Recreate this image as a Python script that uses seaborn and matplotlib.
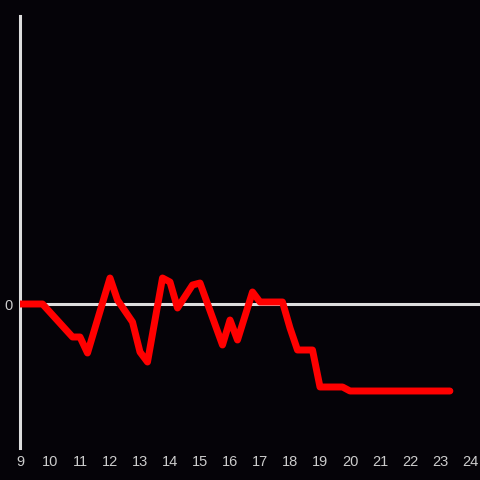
import matplotlib
matplotlib.use("Agg")
import matplotlib.pyplot as plt
import seaborn as sns
import pandas as pd

# hour of day and value
hours = [9.0, 9.75, 10.75, 11.0, 11.25, 12.0, 12.25, 12.75, 13.0, 13.25,
         13.75, 14.0, 14.25, 14.75, 15.0, 15.75, 16.0, 16.25, 16.75, 17.0,
         17.75, 18.0, 18.25, 18.75, 19.0, 19.75, 20.0, 23.33]
values = [0.0, 0.0, -3.3, -3.3, -4.9, 2.6, 0.4, -1.8, -4.8, -5.8,
          2.6, 2.2, -0.4, 1.9, 2.1, -4.1, -1.6, -3.6, 1.2, 0.2,
          0.2, -2.4, -4.6, -4.6, -8.3, -8.3, -8.7, -8.7]
xticks = list(range(9, 25))
yticks = [0]

bg = '#050308'
axis_col = '#dddddd'
text_col = '#cccccc'

sns.set_style('dark', {'axes.facecolor': bg, 'figure.facecolor': bg})
plt.rcParams['font.family'] = ['Liberation Sans', 'DejaVu Sans']

df = pd.DataFrame({'hour': hours, 'value': values})

fig = plt.figure(figsize=(4.8, 4.8), dpi=100)
ax = fig.add_axes([20 / 480, 32 / 480, 460 / 480, 432 / 480])

ax.axhline(0, color=axis_col, lw=2.2, zorder=1)
sns.lineplot(data=df, x='hour', y='value', color='#ff0000', lw=5,
             ax=ax, zorder=3)

ax.set_xlim(9, 9 + 460 / 30)
ax.set_ylim(-14.4, 28.8)
ax.set_xticks(xticks)
ax.set_yticks(yticks)
ax.tick_params(colors=text_col, labelsize=10.5, length=0, pad=5)
ax.set_xlabel('')
ax.set_ylabel('')
ax.grid(False)

for side in ['top', 'right', 'bottom']:
    ax.spines[side].set_visible(False)
ax.spines['left'].set_visible(True)
ax.spines['left'].set_color(axis_col)
ax.spines['left'].set_linewidth(2.2)

fig.savefig('out.png', dpi=100, facecolor=bg)
